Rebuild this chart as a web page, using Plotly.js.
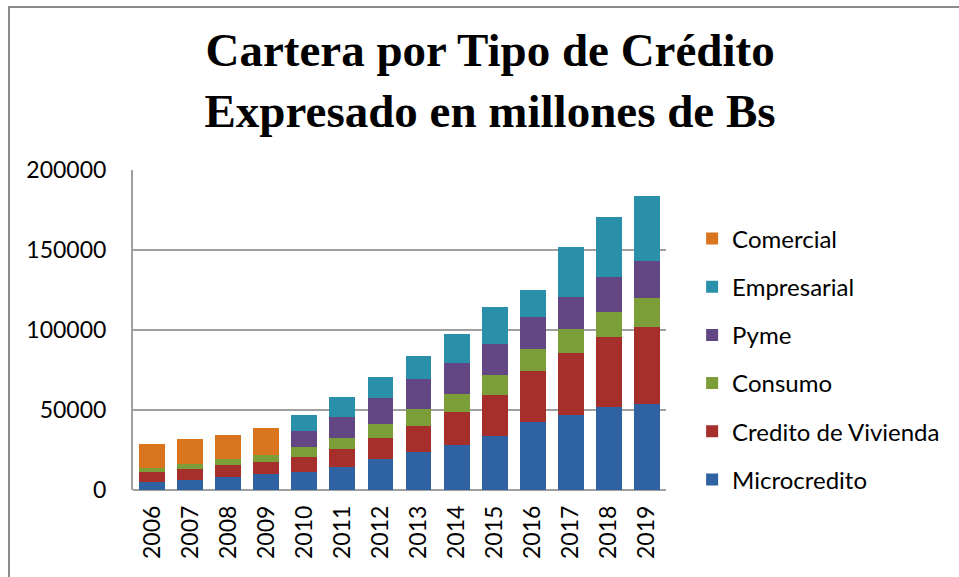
<!DOCTYPE html>
<html>
<head>
<meta charset="utf-8">
<script src="https://cdn.plot.ly/plotly-3.0.1.min.js"></script>
<style>
  html, body { margin: 0; padding: 0; background: #fff; overflow: hidden; }
  #frame { position: absolute; left: 8px; top: 6px; width: 1000px; height: 700px; border: 2px solid #8c8c8c; box-sizing: border-box; pointer-events: none; z-index: 10; }
  #chart { position: absolute; left: 0; top: 0; width: 959px; height: 577px; }
</style>
</head>
<body>
<div id="chart"></div>
<div id="frame"></div>
<script>
const years = ['2006','2007','2008','2009','2010','2011','2012','2013','2014','2015','2016','2017','2018','2019'];
const microcredito = [5200, 6500, 8300, 10200, 11500, 14600, 19600, 23750, 28100, 33750, 42500, 46900, 51900, 53750];
const vivienda     = [6250, 6900, 7500, 7500, 9400, 11250, 13100, 16460, 20800, 25600, 31900, 38750, 43750, 48100];
const consumo      = [2500, 3100, 3750, 4400, 6250, 6900, 8750, 10400, 11000, 12500, 13750, 15000, 15600, 18100];
const pyme         = [0, 0, 0, 0, 10000, 13100, 16250, 18750, 19400, 19600, 20000, 20000, 21900, 23100];
const empresarial  = [0, 0, 0, 0, 9800, 12300, 12900, 14400, 18100, 22900, 16900, 31250, 37500, 40600];
const comercial    = [14800, 15400, 14800, 16900, 0, 0, 0, 0, 0, 0, 0, 0, 0, 0];

const seriesNames = ['Microcredito', 'Credito de Vivienda', 'Consumo', 'Pyme', 'Empresarial', 'Comercial'];
const seriesData = [microcredito, vivienda, consumo, pyme, empresarial, comercial];
const seriesColors = ['#2e62a2', '#a62f2b', '#7b9e39', '#634784', '#2a8fa9', '#d9741f'];

const traces = seriesNames.map((n, i) => ({
  type: 'bar',
  name: n,
  x: years,
  y: seriesData[i],
  legendgroup: 'g' + i,
  legendrank: 1000 - i,
  marker: { color: seriesColors[i], line: { width: 0 } },
  hoverinfo: 'x+y+name'
}));

const font = 'Lato, "Open Sans", sans-serif';

const layout = {
  width: 959,
  height: 577,
  paper_bgcolor: '#ffffff',
  plot_bgcolor: '#ffffff',
  barmode: 'stack',
  bargap: 0.32,
  margin: { l: 133, r: 293, t: 170, b: 87 },
  font: { family: font, size: 23, color: '#000' },
  title: {
    text: 'Cartera por Tipo de Crédito<br>Expresado en millones de Bs',
    font: { family: '"Liberation Serif", "Times New Roman", serif', size: 47, color: '#000', weight: 'bold' },
    xref: 'container', x: 0.511, xanchor: 'center',
    yref: 'container', y: 0.885, yanchor: 'top'
  },
  xaxis: {
    type: 'category',
    tickangle: -90,
    ticks: '',
    showline: false,
    showgrid: false,
    zeroline: false,
    tickfont: { family: font, size: 23, color: '#000' },
    ticklabelstandoff: 10
  },
  yaxis: {
    range: [0, 200000],
    dtick: 50000,
    tick0: 0,
    tickformat: 'd',
    showline: true,
    linecolor: '#a0a0a0',
    linewidth: 2,
    showgrid: true,
    gridcolor: '#a0a0a0',
    gridwidth: 2,
    zeroline: true,
    zerolinecolor: '#a0a0a0',
    zerolinewidth: 2,
    ticks: '',
    tickfont: { family: font, size: 23, color: '#000' },
    ticklabelstandoff: 20
  },
  legend: {
    x: 1.049, xanchor: 'left',
    y: 0.855, yanchor: 'top',
    traceorder: 'grouped',
    tracegroupgap: 14,
    font: { family: font, size: 24, color: '#000' },
    bgcolor: 'rgba(0,0,0,0)'
  },
  showlegend: true
};

Plotly.newPlot('chart', traces, layout, { displayModeBar: false, staticPlot: true });
</script>
</body>
</html>
